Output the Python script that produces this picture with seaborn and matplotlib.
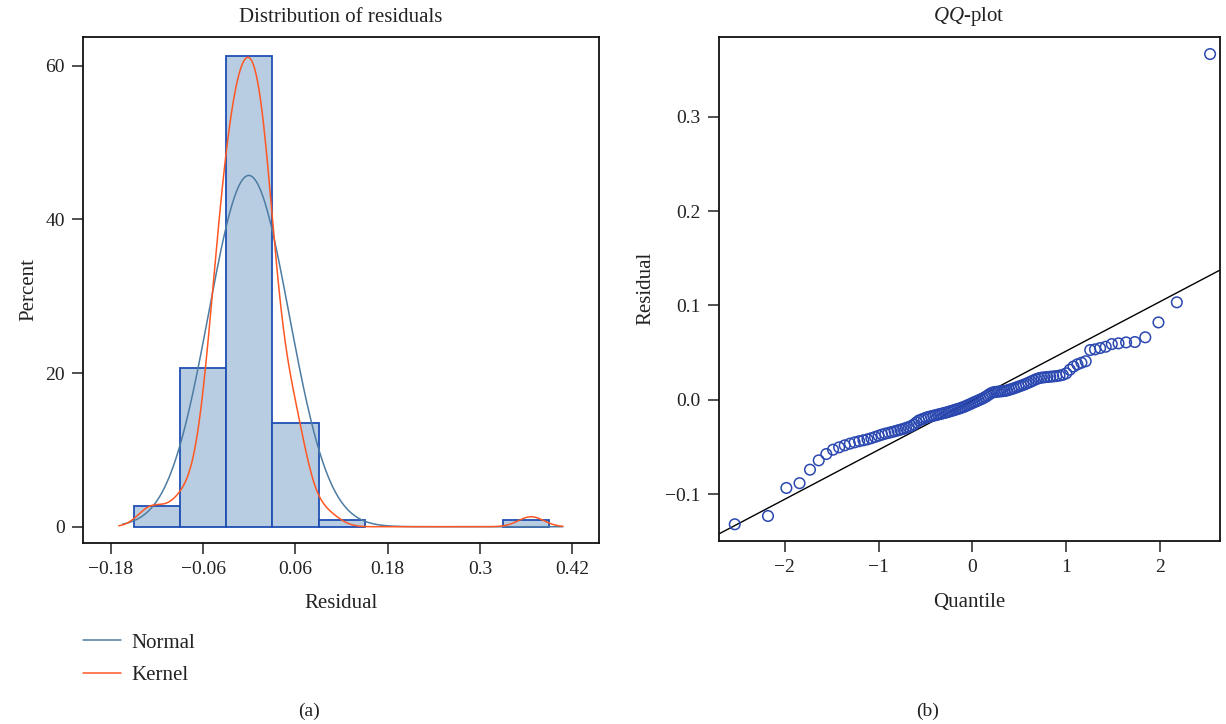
import statistics

import numpy as np
import matplotlib
matplotlib.use("Agg")
import matplotlib.pyplot as plt
import seaborn as sns

# Sorted model residuals (n = 111)
residuals = [
    -0.1321, -0.1233, -0.0936, -0.0885, -0.0742, -0.0643, -0.0576, -0.0530, -0.0505, -0.0484,
    -0.0466, -0.0452, -0.0440, -0.0430, -0.0420, -0.0408, -0.0395, -0.0382, -0.0370, -0.0360,
    -0.0352, -0.0343, -0.0335, -0.0326, -0.0318, -0.0310, -0.0299, -0.0290, -0.0278, -0.0262,
    -0.0240, -0.0220, -0.0210, -0.0200, -0.0190, -0.0182, -0.0176, -0.0170, -0.0164, -0.0158,
    -0.0152, -0.0146, -0.0140, -0.0134, -0.0127, -0.0120, -0.0113, -0.0106, -0.0099, -0.0092,
    -0.0084, -0.0076, -0.0066, -0.0056, -0.0046, -0.0035, -0.0025, -0.0015, -0.0005, 0.0005,
    0.0015, 0.0028, 0.0042, 0.0058, 0.0072, 0.0080, 0.0083, 0.0086, 0.0088, 0.0090,
    0.0093, 0.0098, 0.0105, 0.0113, 0.0121, 0.0130, 0.0139, 0.0148, 0.0157, 0.0168,
    0.0180, 0.0192, 0.0205, 0.0218, 0.0228, 0.0234, 0.0238, 0.0241, 0.0244, 0.0247,
    0.0251, 0.0256, 0.0264, 0.0280, 0.0318, 0.0352, 0.0375, 0.0392, 0.0408, 0.0527,
    0.0534, 0.0548, 0.0562, 0.0590, 0.0598, 0.0608, 0.0612, 0.0662, 0.0820, 0.1033,
    0.3666,
]

bin_edges = [-0.15, -0.09, -0.03, 0.03, 0.09, 0.15, 0.21, 0.27, 0.33, 0.39]

hist_xticks = [-0.18, -0.06, 0.06, 0.18, 0.30, 0.42]
hist_xticklabels = ["\u22120.18", "\u22120.06", "0.06", "0.18", "0.3", "0.42"]
hist_yticks = [0, 20, 40, 60]
hist_yticklabels = ["0", "20", "40", "60"]

qq_xticks = [-2, -1, 0, 1, 2]
qq_xticklabels = ["\u22122", "\u22121", "0", "1", "2"]
qq_yticks = [-0.1, 0.0, 0.1, 0.2, 0.3]
qq_yticklabels = ["\u22120.1", "0.0", "0.1", "0.2", "0.3"]

legend_labels = ["Normal", "Kernel"]

# Colours
BAR_FILL = "#B8CDE1"
BAR_EDGE = "#1F4FB4"
NORMAL_COLOR = "#4D7CA3"
KERNEL_COLOR = "#FF5722"
POINT_COLOR = "#2A48B0"
TEXT_COLOR = "#222222"

KERNEL_BANDWIDTH = 0.0166

# ---------------------------------------------------------------------------
res = np.asarray(residuals)
n = res.size
mean = res.mean()
sd = res.std(ddof=1)
binwidth = bin_edges[1] - bin_edges[0]
pct_scale = 100.0 * binwidth  # density -> percent per bin

# Kernel density estimate (Gaussian kernel), scaled to percent
grid_k = np.linspace(-0.17, 0.408, 600)
h = KERNEL_BANDWIDTH
kernel_pct = (np.exp(-0.5 * ((grid_k[:, None] - res[None, :]) / h) ** 2).sum(axis=1)
              / (n * h * np.sqrt(2 * np.pi)) * pct_scale)

# Fitted normal density, scaled to percent
grid_n = np.linspace(-0.165, 0.408, 600)
normal_pct = np.exp(-0.5 * ((grid_n - mean) / sd) ** 2) / (sd * np.sqrt(2 * np.pi)) * pct_scale

# Theoretical normal quantiles (Blom positions)
nd = statistics.NormalDist()
quantiles = np.array([nd.inv_cdf((i - 0.375) / (n + 0.25)) for i in range(1, n + 1)])

# ---------------------------------------------------------------------------
sns.set_theme(style="ticks")
plt.rcParams["font.family"] = ["Liberation Serif", "DejaVu Serif"]
plt.rcParams["mathtext.fontset"] = "custom"
plt.rcParams["mathtext.rm"] = "Liberation Serif"
plt.rcParams["mathtext.it"] = "Liberation Serif:italic"
plt.rcParams["text.color"] = TEXT_COLOR
plt.rcParams["axes.labelcolor"] = TEXT_COLOR

fig = plt.figure(figsize=(12.26, 7.24), dpi=100)
ax1 = fig.add_axes([0.0675, 0.2504, 0.4211, 0.6981])
ax2 = fig.add_axes([0.5861, 0.2528, 0.4087, 0.6965])

# --- (a) histogram with normal and kernel curves ---------------------------
sns.histplot(x=res, bins=bin_edges, stat="percent", color=BAR_FILL,
             edgecolor=BAR_EDGE, linewidth=1.3, alpha=1.0, ax=ax1)
for patch in ax1.patches:
    if patch.get_height() == 0:
        patch.set_visible(False)

sns.lineplot(x=grid_n, y=normal_pct, color=NORMAL_COLOR, linewidth=1.1,
             label=legend_labels[0], legend=False, errorbar=None, ax=ax1)
sns.lineplot(x=grid_k, y=kernel_pct, color=KERNEL_COLOR, linewidth=1.1,
             label=legend_labels[1], legend=False, errorbar=None, ax=ax1)

ax1.set_xlim(-0.2168, 0.455)
ax1.set_ylim(-2.08, 63.7)
ax1.set_xticks(hist_xticks, hist_xticklabels)
ax1.set_yticks(hist_yticks, hist_yticklabels)
ax1.set_title("Distribution of residuals", fontsize=15, pad=11)
ax1.set_xlabel("Residual", fontsize=15, labelpad=12)
ax1.set_ylabel("Percent", fontsize=15, labelpad=5)

# --- (b) normal QQ plot -----------------------------------------------------
sns.scatterplot(x=quantiles, y=res, marker="o", s=58, color=POINT_COLOR,
                facecolor="none", edgecolor=POINT_COLOR, linewidth=1.1,
                legend=False, ax=ax2, zorder=3)
ax2.axline((0.0, mean), slope=sd, color="black", linewidth=1.0, zorder=2)

ax2.set_xlim(-2.708, 2.637)
ax2.set_ylim(-0.1498, 0.385)
ax2.set_xticks(qq_xticks, qq_xticklabels)
ax2.set_yticks(qq_yticks, qq_yticklabels)
ax2.set_title(r"$\mathit{QQ}$-plot", fontsize=15, pad=11)
ax2.set_xlabel("Quantile", fontsize=15, labelpad=12)
ax2.set_ylabel("Residual", fontsize=15, labelpad=7)

for ax in (ax1, ax2):
    for side in ("left", "right", "top", "bottom"):
        ax.spines[side].set_visible(True)
        ax.spines[side].set_color("#111111")
        ax.spines[side].set_linewidth(1.3)
    ax.tick_params(direction="out", length=8, width=1.1, color="#222222",
                   labelsize=14, labelcolor=TEXT_COLOR, pad=5)
    ax.grid(False)

# Legend under panel (a)
handles, labels = ax1.get_legend_handles_labels()
fig.legend(handles, labels, loc="upper left",
           bbox_to_anchor=(0.068, 1 - 633 / 724), frameon=False, fontsize=15,
           handlelength=1.8, handletextpad=0.5, labelspacing=0.62,
           borderpad=0, borderaxespad=0)

fig.text(309 / 1226, 1 - 711 / 724, "(a)", ha="center", va="center", fontsize=14)
fig.text(928 / 1226, 1 - 711 / 724, "(b)", ha="center", va="center", fontsize=14)

fig.savefig("out.png", dpi=100)
